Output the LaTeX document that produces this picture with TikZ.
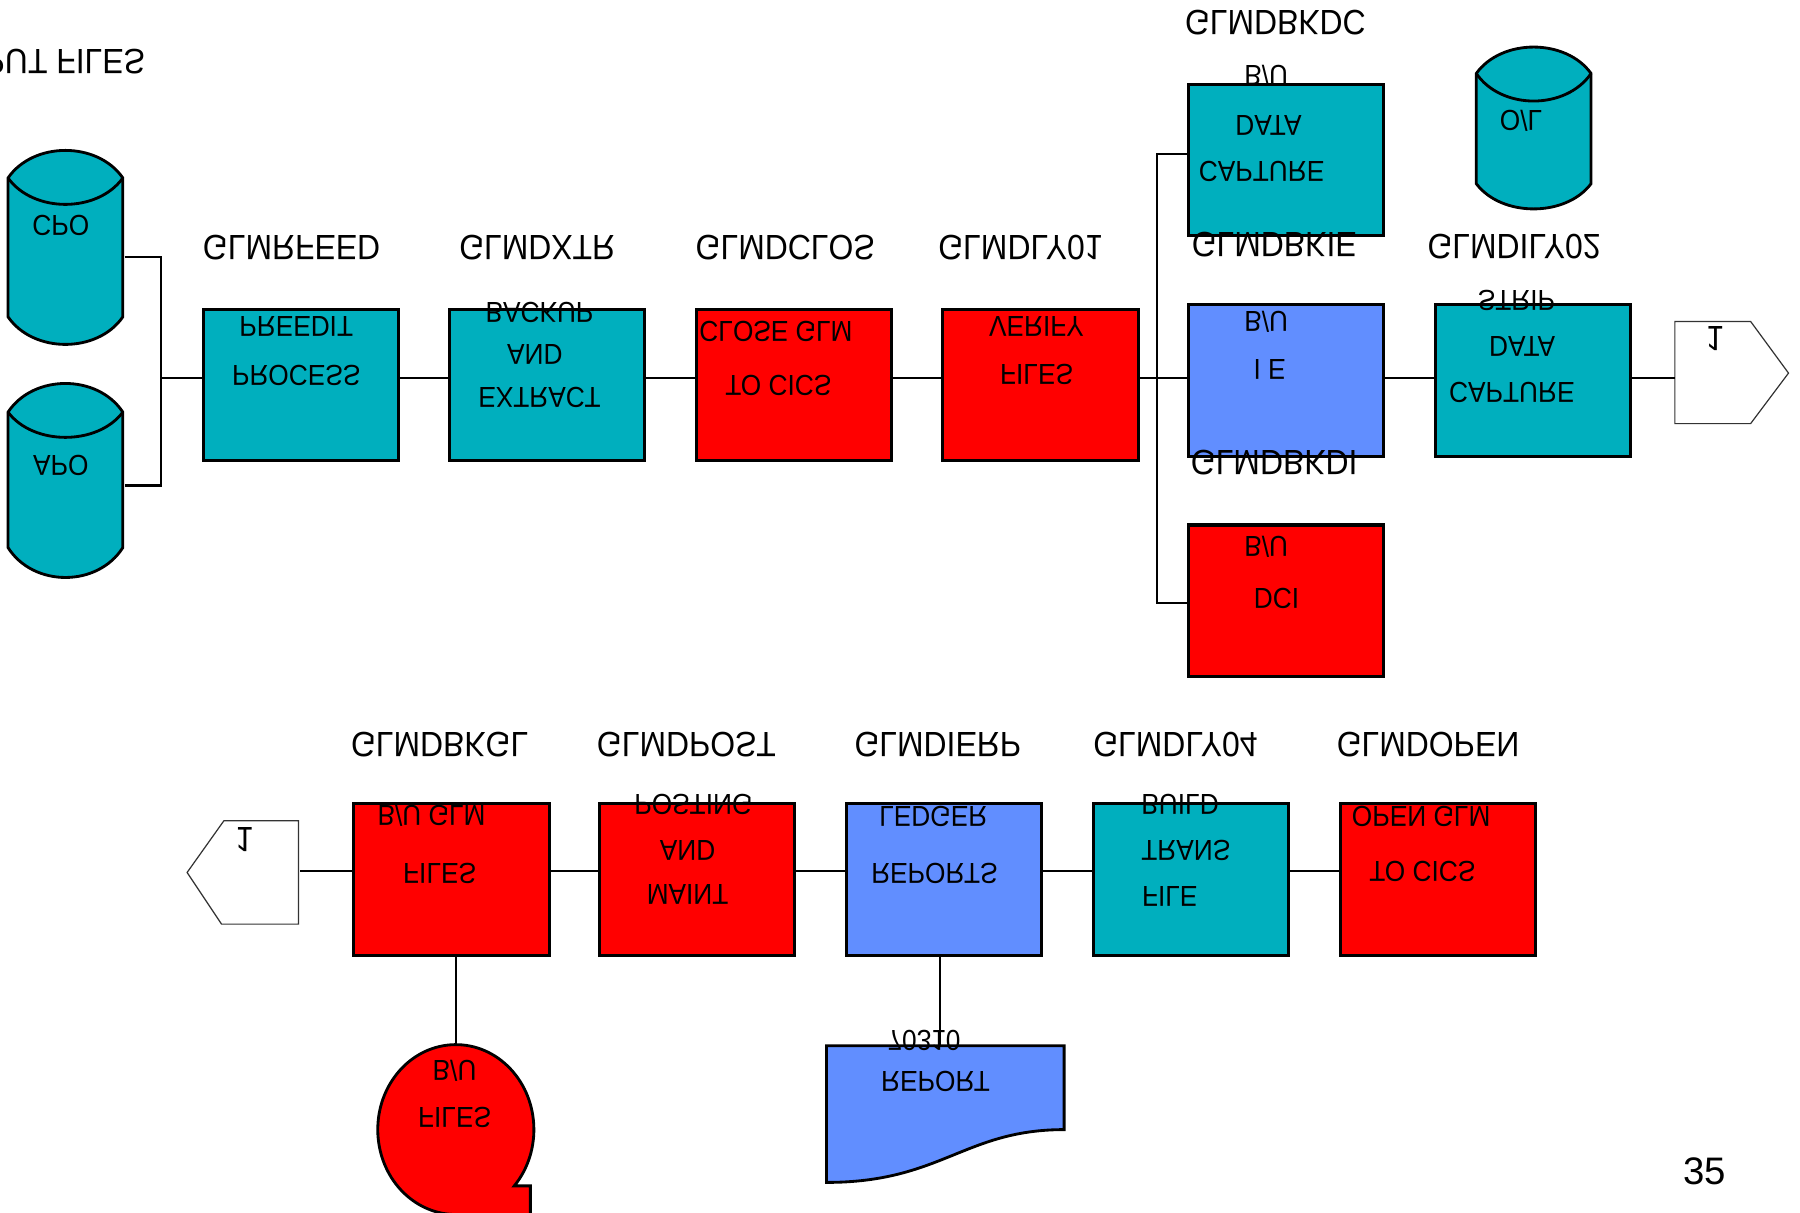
\documentclass[tikz,border=0pt]{standalone}
\usepackage{fontspec}
\setmainfont{Liberation Sans}
\usepackage{graphicx}
\definecolor{procteal}{RGB}{0,175,190}
\definecolor{procred}{RGB}{255,0,0}
\definecolor{procblue}{RGB}{97,142,255}
% upside-down lettering used throughout the chart
\newcommand\upend[1]{\scalebox{1}[-1.1]{#1}}
\tikzset{
  proc/.style={draw, line width=0.75pt, minimum width=1.7cm, minimum height=1.32cm,
    inner sep=0pt, anchor=north west},
  lbl/.style={font=\fontsize{7.9}{9}\selectfont, inner sep=0pt},
  btxt/.style={font=\fontsize{6.5}{8}\selectfont, inner sep=0pt},
  link/.style={line width=0.55pt},
  shapeline/.style={line width=0.7pt},
  pentline/.style={line width=0.3pt, draw=black!80, fill=white},
  holder/.style={inner sep=0pt, anchor=north west}
}
\begin{document}
\begin{tikzpicture}[x=0.01cm, y=-0.01cm]
\useasboundingbox (0,0) rectangle (1568,1056);
\clip (0,0) rectangle (1568,1056);

% ---------- input cylinders ----------
\node[holder, minimum width=1cm, minimum height=1.69cm] (cpo) at (7,131) {};
\filldraw[shapeline, fill=procteal] (7,155) .. controls (29,123) and (85,123) .. (107,155)
  -- (107,276) .. controls (85,308) and (29,308) .. (7,276) -- cycle;
\draw[shapeline] (7,155) .. controls (29,185.7) and (85,185.7) .. (107,155);
\node[btxt] (cpot) at (53,196) {\upend{CPO}};

\node[holder, minimum width=1cm, minimum height=1.69cm] (apo) at (7,334) {};
\filldraw[shapeline, fill=procteal] (7,359) .. controls (29,325.7) and (85,325.7) .. (107,359)
  -- (107,477) .. controls (85,511.7) and (29,511.7) .. (7,477) -- cycle;
\draw[shapeline] (7,359) .. controls (29,388.3) and (85,388.3) .. (107,359);
\node[btxt] (apot) at (53,405) {\upend{APO}};

\node[lbl, anchor=east] (inp) at (127,54) {\upend{INPUT FILES}};

% ---------- top row ----------
\coordinate (rowA) at (0,329);
\coordinate (busL) at (140,0);
\coordinate (busR) at (1008,0);

\node[proc, fill=procteal] (b1) at (176,268) {};
\node[proc, fill=procteal] (b2) at (390,268) {};
\node[proc, fill=procred]  (b3) at (605,268) {};
\node[proc, fill=procred]  (b4) at (820,268) {};
\node[proc, fill=procteal] (cap) at (1034,72) {};
\node[proc, fill=procblue] (ie) at (1034,264) {};
\node[proc, fill=procred]  (dci) at (1034,456) {};
\node[proc, fill=procteal] (strip) at (1249,264) {};

\node[lbl] (l1) at (254,216) {\upend{GLMRFEED}};
\node[lbl] (l2) at (468,216) {\upend{GLMDXTR}};
\node[lbl] (l3) at (684,216) {\upend{GLMDCLOS}};
\node[lbl] (l4) at (889,216) {\upend{GLMDLY01}};
\node[lbl] (l5) at (1111,20) {\upend{GLMDBKDC}};
\node[lbl] (l6) at (1110,213) {\upend{GLMDBKIE}};
\node[lbl] (l7) at (1110,403) {\upend{GLMDBKDI}};
\node[lbl] (l8) at (1319,215) {\upend{GLMDILY02}};

\node[btxt] (t1a) at (258,284) {\upend{PREEDIT}};
\node[btxt] (t1b) at (258,327) {\upend{PROCESS}};
\node[btxt] (t2a) at (470,272) {\upend{BACKUP}};
\node[btxt] (t2b) at (466,309) {\upend{AND}};
\node[btxt] (t2c) at (470,346) {\upend{EXTRACT}};
\node[btxt] (t3a) at (676,289) {\upend{CLOSE GLM}};
\node[btxt] (t3b) at (678,336) {\upend{TO CICS}};
\node[btxt] (t4a) at (903,284) {\upend{VERIFY}};
\node[btxt] (t4b) at (903,326) {\upend{FILES}};
\node[btxt] (tca) at (1103,66) {\upend{B/U}};
\node[btxt] (tcb) at (1105,109) {\upend{DATA}};
\node[btxt] (tcc) at (1099,149) {\upend{CAPTURE}};
\node[btxt] (tia) at (1103,280) {\upend{B/U}};
\node[btxt] (tib) at (1106,322) {\upend{I E}};
\node[btxt] (tda) at (1103,476) {\upend{B/U}};
\node[btxt] (tdb) at (1112,521) {\upend{DCI}};
\node[btxt] (tsa) at (1321,262) {\upend{STRIP}};
\node[btxt] (tsb) at (1326,302) {\upend{DATA}};
\node[btxt] (tsc) at (1317,342) {\upend{CAPTURE}};

% O/L cylinder
\node[holder, minimum width=1cm, minimum height=1.41cm] (ol) at (1286,41) {};
\filldraw[shapeline, fill=procteal] (1286,64) .. controls (1308,33.3) and (1364,33.3) .. (1386,64)
  -- (1386,160) .. controls (1364,189.3) and (1308,189.3) .. (1286,160) -- cycle;
\draw[shapeline] (1286,64) .. controls (1308,96) and (1364,96) .. (1386,64);
\node[btxt] (olt) at (1325,105) {\upend{O/L}};

% off-page connector, right
\node[holder, minimum width=0.99cm, minimum height=0.89cm] (pr) at (1459,280) {};
\draw[pentline] (1459,280) -- (1525,280) -- (1558,325) -- (1525,369) -- (1459,369) -- cycle;
\node[lbl] (prt) at (1494,295) {\upend{1}};

% top-row connectors
\draw[link] (cpo.east |- 0,224) -- (busL |- 0,224) -- (busL |- 0,423) -- (apo.east |- 0,423);
\draw[link] (busL |- rowA) -- (b1.west |- rowA);
\draw[link] (b1.east |- rowA) -- (b2.west |- rowA);
\draw[link] (b2.east |- rowA) -- (b3.west |- rowA);
\draw[link] (b3.east |- rowA) -- (b4.west |- rowA);
\draw[link] (b4.east |- rowA) -- (ie.west |- rowA);
\draw[link] (cap.west |- 0,134) -- (busR |- 0,134) -- (busR |- 0,525) -- (dci.west |- 0,525);
\draw[link] (ie.east |- rowA) -- (strip.west |- rowA);
\draw[link] (strip.east |- rowA) -- (pr.west |- rowA);

% ---------- bottom row ----------
\coordinate (rowB) at (0,759);
\node[proc, fill=procred]   (c1) at (307,699) {};
\node[proc, fill=procred]   (c2) at (521,699) {};
\node[proc, fill=procblue]  (c3) at (736,699) {};
\node[proc, fill=procteal]  (c4) at (951,699) {};
\node[proc, fill=procred]   (c5) at (1166,699) {};

\node[lbl] (m1) at (383,649) {\upend{GLMDBKGL}};
\node[lbl] (m2) at (598,649) {\upend{GLMDPOST}};
\node[lbl] (m3) at (817,649) {\upend{GLMDIERP}};
\node[lbl] (m4) at (1024,649) {\upend{GLMDLY04}};
\node[lbl] (m5) at (1244,649) {\upend{GLMDOPEN}};

\node[btxt] (u1a) at (376,711) {\upend{B/U GLM}};
\node[btxt] (u1b) at (383,761) {\upend{FILES}};
\node[btxt] (u2a) at (604,701) {\upend{POSTING}};
\node[btxt] (u2b) at (599,741) {\upend{AND}};
\node[btxt] (u2c) at (599,779) {\upend{MAINT}};
\node[btxt] (u3a) at (813,711) {\upend{LEDGER}};
\node[btxt] (u3b) at (814,761) {\upend{REPORTS}};
\node[btxt] (u4a) at (1028,701) {\upend{BUILD}};
\node[btxt] (u4b) at (1033,741) {\upend{TRANS}};
\node[btxt] (u4c) at (1019,781) {\upend{FILE}};
\node[btxt] (u5a) at (1238,711) {\upend{OPEN GLM}};
\node[btxt] (u5b) at (1239,759) {\upend{TO CICS}};

% off-page connector, left
\node[holder, minimum width=0.97cm, minimum height=0.90cm] (pl) at (163,715) {};
\draw[pentline] (260,715) -- (195,715) -- (163,760) -- (193,805) -- (260,805) -- cycle;
\node[lbl] (plt) at (213,731) {\upend{1}};

% tape file
\node[inner sep=0pt, minimum width=1.36cm, minimum height=1.48cm] (tape) at (397,984) {};
\filldraw[shapeline, fill=procred] (448,1033) arc[start angle=41.5, end angle=-270, x radius=68, y radius=74]
  -- (462,1058) -- (462,1033) -- cycle;
\node[btxt] (tta) at (396,933) {\upend{B/U}};
\node[btxt] (ttb) at (396,973) {\upend{FILES}};

% printed report
\node[holder, minimum width=2.07cm, minimum height=1.19cm] (rep) at (720,911) {};
\filldraw[shapeline, fill=procblue] (720,911) -- (927,911) -- (927,984)
  .. controls (840,984) and (820,1030) .. (720,1030) -- cycle;
\node[btxt] (rpa) at (805,906) {\upend{70310}};
\node[btxt] (rpb) at (815,942) {\upend{REPORT}};

% bottom-row connectors
\draw[link] (pl.east |- rowB) -- (c1.west |- rowB);
\draw[link] (c1.east |- rowB) -- (c2.west |- rowB);
\draw[link] (c2.east |- rowB) -- (c3.west |- rowB);
\draw[link] (c3.east |- rowB) -- (c4.west |- rowB);
\draw[link] (c4.east |- rowB) -- (c5.west |- rowB);
\draw[link] (tape.north |- c1.south) -- (tape.north);
\draw[link] (rep.north -| 819,0) -- (c3.south -| 819,0);

% page number
\node[font=\fontsize{9.5}{11}\selectfont, inner sep=0pt] (pg) at (1485,1020) {35};
\end{tikzpicture}
\end{document}
